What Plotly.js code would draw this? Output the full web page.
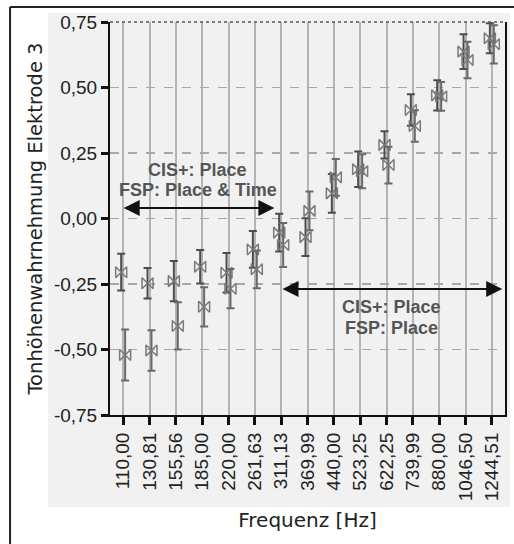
<!DOCTYPE html>
<html>
<head>
<meta charset="utf-8">
<script src="https://cdn.plot.ly/plotly-3.0.1.min.js"></script>
<style>
html,body{margin:0;padding:0;background:#fff;}
#chart{width:514px;height:544px;}
</style>
</head>
<body>
<div id="chart"></div>
<script>
// Categories (frequencies in Hz, German decimal comma)
const frequencies = ["110,00","130,81","155,56","185,00","220,00","261,63","311,13","369,99","440,00","523,25","622,25","739,99","880,00","1046,50","1244,51"];

// Series A (left offset)
const meanA = [-0.205,-0.247,-0.239,-0.184,-0.207,-0.118,-0.054,-0.071,0.096,0.188,0.281,0.414,0.470,0.637,0.688];
const errA  = [0.070,0.058,0.077,0.064,0.075,0.070,0.072,0.072,0.074,0.068,0.052,0.060,0.058,0.066,0.057];

// Series B (right offset)
const meanB = [-0.521,-0.504,-0.410,-0.337,-0.268,-0.194,-0.101,0.029,0.157,0.180,0.204,0.353,0.466,0.605,0.665];
const errB  = [0.097,0.077,0.090,0.075,0.075,0.072,0.084,0.074,0.070,0.065,0.070,0.060,0.055,0.070,0.073];

// Y ticks
const yTicks = [-0.75,-0.5,-0.25,0,0.25,0.5,0.75];
const yTickLabels = ["-0,75","-0,50","-0,25","0,00","0,25","0,50","0,75"];

const markerStyle = {symbol:'bowtie-open', size:11, color:'#7a7a7a', line:{width:1.5, color:'#7a7a7a'}};
const errStyle = {type:'data', visible:true, thickness:2, width:4, color:'#4d4d4d'};

const traces = [
  {x:frequencies, y:meanA, type:'scatter', mode:'markers', name:'A',
   marker:markerStyle, error_y:Object.assign({array:errA}, errStyle), offsetgroup:'a', cliponaxis:false},
  {x:frequencies, y:meanB, type:'scatter', mode:'markers', name:'B',
   marker:markerStyle, error_y:Object.assign({array:errB}, errStyle, {color:'#6a6a6a'}), offsetgroup:'b', cliponaxis:false}
];

const txtFont = {family:'"Liberation Sans", Arial, sans-serif', size:18, color:'#555555', weight:'bold'};

const layout = {
  width:514, height:544,
  margin:{l:110, r:9, t:22, b:129},
  paper_bgcolor:'#ffffff', plot_bgcolor:'#ffffff',
  showlegend:false,
  scattermode:'group', scattergap:0.7,
  font:{family:'"Liberation Sans", Arial, sans-serif', color:'#222'},
  xaxis:{
    type:'category', range:[-0.5,14.5],
    showgrid:true, gridcolor:'#b4b4b4', gridwidth:2,
    showline:true, linecolor:'#111', linewidth:2,
    ticks:'outside', ticklen:8, tickwidth:3, tickcolor:'#111',
    tickangle:-90, tickfont:{size:19, color:'#222'},
    title:{text:'Frequenz [Hz]', font:{family:'"DejaVu Sans", sans-serif', size:20, color:'#222'}, standoff:13},
    zeroline:false, fixedrange:true
  },
  yaxis:{
    range:[-0.75,0.75], tickvals:yTicks, ticktext:yTickLabels,
    showgrid:true, gridcolor:'#a8a8a8', gridwidth:1.5, griddash:'dash',
    showline:true, linecolor:'#111', linewidth:2, mirror:true,
    ticks:'outside', ticklen:7, tickwidth:3, tickcolor:'#111',
    tickfont:{size:19, color:'#222'},
    title:{text:'Tonhöhenwahrnehmung Elektrode 3', font:{family:'"DejaVu Sans", sans-serif', size:19.5, color:'#222'}, standoff:6},
    zeroline:false, fixedrange:true
  },
  shapes:[
    // light gray panel behind the chart
    {type:'rect', xref:'paper', yref:'paper', x0:-0.157, x1:1.0127, y0:-0.234, y1:1.0229,
     fillcolor:'#f1f1f1', line:{width:0}, layer:'below'},
    // outer frame lines (left and top)
    {type:'line', xref:'paper', yref:'paper', x0:-0.253, x1:1.1, y0:1.038, y1:1.038, line:{color:'#222', width:2}},
    {type:'line', xref:'paper', yref:'paper', x0:-0.253, x1:-0.253, y0:1.038, y1:-0.5, line:{color:'#222', width:2}},
    // top dotted border of plot area
    {type:'line', xref:'paper', yref:'paper', x0:0, x1:1, y0:1, y1:1, line:{color:'#555', width:1.5, dash:'dot'}}
  ],
  annotations:[
    {x:0.02, y:0.04, ax:5.8, ay:0.04, xref:'x', yref:'y', axref:'x', ayref:'y', text:'', showarrow:true,
     arrowhead:2, startarrowhead:2, arrowside:'end+start', arrowsize:1.6, startarrowsize:1.6, arrowwidth:2, arrowcolor:'#111'},
    {x:6.05, y:-0.269, ax:14.45, ay:-0.269, xref:'x', yref:'y', axref:'x', ayref:'y', text:'', showarrow:true,
     arrowhead:2, startarrowhead:2, arrowside:'end+start', arrowsize:1.6, startarrowsize:1.6, arrowwidth:2, arrowcolor:'#111'},
    {x:2.83, y:0.185, xref:'x', yref:'y', text:'CIS+: Place', showarrow:false, font:txtFont},
    {x:2.83, y:0.109, xref:'x', yref:'y', text:'FSP: Place &amp; Time', showarrow:false, font:txtFont},
    {x:10.2, y:-0.338, xref:'x', yref:'y', text:'CIS+: Place', showarrow:false, font:txtFont},
    {x:10.2, y:-0.418, xref:'x', yref:'y', text:'FSP: Place', showarrow:false, font:txtFont}
  ]
};

Plotly.newPlot('chart', traces, layout, {staticPlot:true, displayModeBar:false});
</script>
</body>
</html>
